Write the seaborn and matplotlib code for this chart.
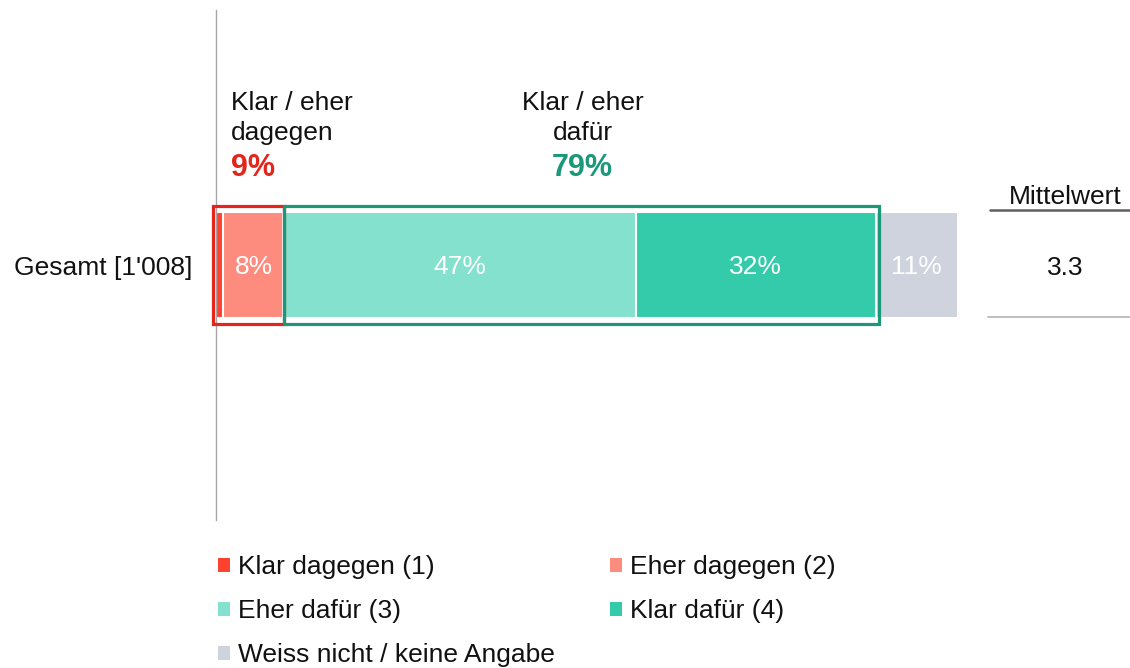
import matplotlib
matplotlib.use("Agg")
import matplotlib.pyplot as plt
from matplotlib.patches import Patch, Rectangle
from matplotlib.lines import Line2D
import seaborn as sns
import numpy as np

# data
group = "Gesamt [1'008]"
categories = ["Klar dagegen (1)", "Eher dagegen (2)", "Eher dafür (3)",
              "Klar dafür (4)", "Weiss nicht / keine Angabe"]
values = [1, 8, 47, 32, 11]
colors = ["#fd4330", "#fe8c7e", "#84e1cd", "#33cbaa", "#cfd3de"]
summary_labels = ["Klar / eher\ndagegen", "Klar / eher\ndafür"]
summary_values = [9, 79]
mean_label = "Mittelwert"
mean_value = 3.3

sns.set_theme(style="white")
plt.rcParams["font.family"] = ["Liberation Sans", "DejaVu Sans"]
plt.rcParams["text.color"] = "#111111"

fig = plt.figure(figsize=(11.3, 6.68), dpi=100)
ax = fig.add_axes([216 / 1130, 148 / 668, 742 / 1130, 510 / 668])

bar_h = 0.206
cum = np.cumsum(values)
# stacked bars: draw cumulative totals from the back
for i in range(len(values) - 1, -1, -1):
    sns.barplot(x=[cum[i]], y=[group], color=colors[i], saturation=1,
                width=bar_h, edgecolor="white", linewidth=1.5, orient="h", ax=ax)

ax.set_xlim(0, sum(values))
ax.set_ylim(0.5, -0.5)

# segment labels
starts = cum - np.array(values)
for i, v in enumerate(values):
    if v < 3:
        continue
    ax.text(starts[i] + v / 2, 0.004, f"{v}%", ha="center", va="center",
            color="white", fontsize=19)

# outline boxes for the groups
red_box, green_box = "#e2261c", "#1b977a"
box_h = 0.23
ax.add_patch(Rectangle((-0.45, -box_h / 2), 9.55, box_h, fill=False,
                       edgecolor=red_box, linewidth=2.3, clip_on=False, zorder=5))
ax.add_patch(Rectangle((9.1, -box_h / 2), 79.3, box_h, fill=False,
                       edgecolor=green_box, linewidth=2.3, clip_on=False, zorder=5))

# group summaries above the bar
ax.text(2.0, -0.288, summary_labels[0], ha="left", va="center",
        fontsize=19, linespacing=1.3)
ax.text(2.0, -0.19, f"{summary_values[0]}%", ha="left", va="center",
        fontsize=22, fontweight="bold", color=red_box)
ax.text(48.9, -0.288, summary_labels[1], ha="center", va="center",
        fontsize=19, linespacing=1.3)
ax.text(48.9, -0.19, f"{summary_values[1]}%", ha="center", va="center",
        fontsize=22, fontweight="bold", color=green_box)

# axis styling
for s in ["top", "right", "bottom"]:
    ax.spines[s].set_visible(False)
ax.spines["left"].set_color("#a6a6a6")
ax.spines["left"].set_linewidth(1)
ax.set_xticks([])
ax.set_xlabel("")
ax.set_ylabel("")
ax.tick_params(axis="y", length=0, pad=17, labelsize=19, labelcolor="#111111")

# Mittelwert column
fig.text(1065 / 1130, 1 - 197 / 668, mean_label, ha="center", va="center", fontsize=19)
fig.text(1065 / 1130, 1 - 268 / 668, f"{mean_value}", ha="center", va="center", fontsize=19)
fig.add_artist(Line2D([990 / 1130, 1.0], [1 - 210 / 668] * 2, color="#5f5f5f", linewidth=1.8))
fig.add_artist(Line2D([988 / 1130, 1.0], [1 - 317 / 668] * 2, color="#b3b3b3", linewidth=1.2))

# legend, filled row by row
order = [0, 2, 4, 1, 3]
handles = [Patch(facecolor=colors[i], edgecolor="none", label=categories[i]) for i in order]
fig.legend(handles=handles, loc="upper left", bbox_to_anchor=(218 / 1130, 1 - 555 / 668),
           ncol=2, frameon=False, fontsize=19, handlelength=0.45, handleheight=0.45,
           handletextpad=0.3, columnspacing=2.1, labelspacing=0.76,
           borderpad=0, borderaxespad=0, labelcolor="#111111")

fig.savefig("out.png", dpi=100)
